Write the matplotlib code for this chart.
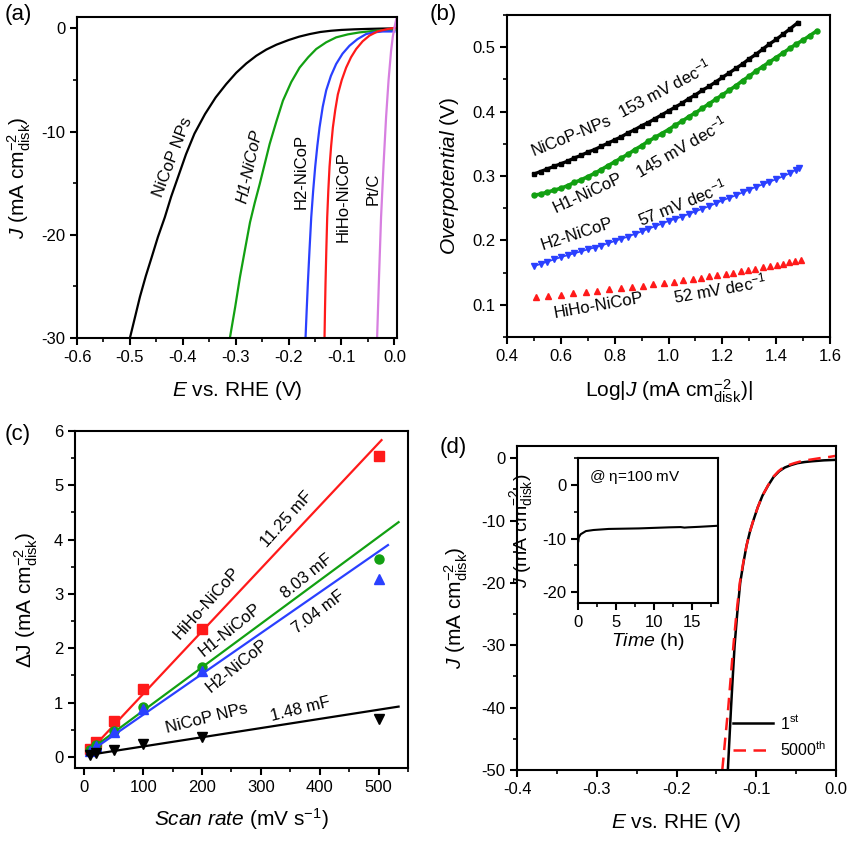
import numpy as np
import matplotlib
matplotlib.use("Agg")
import matplotlib.pyplot as plt
from matplotlib.ticker import MultipleLocator, AutoMinorLocator

plt.rcParams['font.family'] = ['Liberation Sans', 'DejaVu Sans']
plt.rcParams['mathtext.fontset'] = 'custom'
plt.rcParams['mathtext.rm'] = 'Liberation Sans'
plt.rcParams['mathtext.it'] = 'Liberation Sans:italic'
plt.rcParams['mathtext.bf'] = 'Liberation Sans:bold'

# ---------------- (a) polarization curves ----------------
a_npt_E = [-0.500, -0.490, -0.481, -0.470, -0.459, -0.447, -0.434, -0.422, -0.409, -0.394, -0.378, -0.358, -0.338,
           -0.318, -0.299, -0.280, -0.261, -0.242, -0.223, -0.200, -0.180, -0.160, -0.140, -0.120, -0.100, -0.075,
           -0.050, -0.025, 0.0]
a_npt_J = [-30.0, -27.9, -26.0, -24.0, -22.2, -20.2, -18.3, -16.3, -14.4, -12.2, -10.2, -8.3, -6.7,
           -5.4, -4.3, -3.4, -2.65, -2.05, -1.58, -1.13, -0.80, -0.55, -0.35, -0.23, -0.15, -0.09,
           -0.05, -0.02, 0.0]
a_h1_E = [-0.311, -0.301, -0.292, -0.282, -0.273, -0.264, -0.2547, -0.245, -0.2358, -0.223, -0.2107, -0.195,
          -0.1792, -0.163, -0.1478, -0.129, -0.1101, -0.088, -0.066, -0.044, -0.022, 0.0]
a_h1_J = [-30.0, -27.0, -24.1, -21.3, -18.8, -16.9, -15.1, -13.1, -11.2, -9.0, -7.0, -5.2,
          -3.8, -2.8, -2.0, -1.35, -0.87, -0.58, -0.39, -0.27, -0.2, -0.15]
a_h2_E = [-0.168, -0.1658, -0.1636, -0.1605, -0.1572, -0.1535, -0.1497, -0.1457, -0.1415, -0.1355, -0.1289,
          -0.1200, -0.1101, -0.0980, -0.0849, -0.0700, -0.0535, -0.038, -0.022, 0.0]
a_h2_J = [-30.0, -27.3, -24.7, -21.5, -18.3, -15.7, -13.4, -11.4, -9.6, -7.6, -6.0,
          -4.6, -3.45, -2.45, -1.68, -1.05, -0.55, -0.38, -0.3, -0.3]
a_hiho_E = [-0.1321, -0.1312, -0.1302, -0.1287, -0.127, -0.1249, -0.1226, -0.1196, -0.1163, -0.1118, -0.1069,
            -0.0995, -0.0912, -0.0820, -0.0723, -0.0600, -0.0472, -0.032, -0.016, 0.0, 0.005]
a_hiho_J = [-30.0, -27.3, -24.7, -21.5, -18.3, -15.7, -13.4, -11.4, -9.6, -7.9, -6.4,
            -5.0, -3.8, -2.8, -2.0, -1.25, -0.7, -0.3, -0.1, 0.05, 0.1]
a_pt_E = [-0.0327, -0.029, -0.0252, -0.0205, -0.0157, -0.011, -0.0063, -0.003, 0.001, 0.004]
a_pt_J = [-30.0, -24.0, -18.3, -13.2, -8.6, -5.0, -2.2, -0.8, 0.3, 1.0]

# ---------------- (b) Tafel plots ----------------
b_npt_x = [0.500, 0.525, 0.550, 0.575, 0.600, 0.625, 0.650, 0.675, 0.700, 0.725, 0.750, 0.775, 0.800, 0.825,
           0.850, 0.875, 0.900, 0.925, 0.950, 0.975, 1.000, 1.025, 1.050, 1.075, 1.100, 1.125, 1.150, 1.175,
           1.200, 1.225, 1.250, 1.275, 1.300, 1.325, 1.350, 1.375, 1.400, 1.425, 1.450, 1.480]
b_npt_y = [0.303, 0.307, 0.311, 0.315, 0.319, 0.323, 0.328, 0.332, 0.337, 0.341, 0.346, 0.351, 0.356, 0.361,
           0.367, 0.372, 0.378, 0.383, 0.389, 0.395, 0.401, 0.407, 0.413, 0.420, 0.426, 0.433, 0.439, 0.446,
           0.453, 0.460, 0.467, 0.474, 0.482, 0.489, 0.497, 0.505, 0.512, 0.520, 0.528, 0.538]
b_h1_x = [0.500, 0.525, 0.550, 0.575, 0.600, 0.625, 0.650, 0.675, 0.700, 0.725, 0.750, 0.775, 0.800, 0.825,
          0.850, 0.875, 0.900, 0.925, 0.950, 0.975, 1.000, 1.025, 1.050, 1.075, 1.100, 1.125, 1.150, 1.175,
          1.200, 1.225, 1.250, 1.275, 1.300, 1.325, 1.350, 1.375, 1.400, 1.425, 1.450, 1.475, 1.500, 1.525, 1.550]
b_h1_y = [0.270, 0.272, 0.275, 0.278, 0.281, 0.285, 0.290, 0.294, 0.299, 0.304, 0.310, 0.316, 0.322, 0.328,
          0.334, 0.341, 0.347, 0.354, 0.360, 0.366, 0.372, 0.379, 0.385, 0.392, 0.398, 0.405, 0.412, 0.419,
          0.426, 0.433, 0.440, 0.448, 0.455, 0.463, 0.470, 0.477, 0.484, 0.491, 0.498, 0.505, 0.511, 0.518, 0.525]
b_h2_x = [0.500, 0.525, 0.550, 0.575, 0.600, 0.625, 0.650, 0.675, 0.700, 0.725, 0.750, 0.775, 0.800, 0.825,
          0.850, 0.875, 0.900, 0.925, 0.950, 0.975, 1.000, 1.025, 1.050, 1.075, 1.100, 1.125, 1.150, 1.175,
          1.200, 1.225, 1.250, 1.275, 1.300, 1.325, 1.350, 1.375, 1.400, 1.425, 1.450, 1.475, 1.485]
b_h2_y = [0.160, 0.1635, 0.167, 0.1705, 0.174, 0.177, 0.180, 0.183, 0.186, 0.189, 0.192, 0.1955, 0.199, 0.2025,
          0.206, 0.210, 0.214, 0.218, 0.222, 0.226, 0.230, 0.2335, 0.237, 0.241, 0.245, 0.249, 0.253, 0.2575,
          0.262, 0.266, 0.270, 0.2745, 0.279, 0.283, 0.287, 0.291, 0.295, 0.2995, 0.304, 0.310, 0.313]
b_hiho_x = [0.506, 0.552, 0.600, 0.645, 0.692, 0.736, 0.779, 0.823, 0.866, 0.904, 0.943, 0.982, 1.019, 1.055, 1.090,
            1.121, 1.150, 1.181, 1.212, 1.240, 1.269, 1.296, 1.322, 1.350, 1.377, 1.402, 1.426, 1.449, 1.470, 1.491]
b_hiho_y = [0.112, 0.114, 0.116, 0.118, 0.120, 0.122, 0.124, 0.126, 0.128, 0.130, 0.132, 0.134, 0.136, 0.138, 0.140,
            0.142, 0.144, 0.146, 0.148, 0.150, 0.152, 0.154, 0.156, 0.158, 0.160, 0.162, 0.164, 0.166, 0.168, 0.170]

# ---------------- (c) double-layer capacitance ----------------
c_scan = [10, 20, 50, 100, 200, 500]
c_hiho = [0.15, 0.28, 0.66, 1.25, 2.36, 5.54]
c_h1 = [0.12, 0.22, 0.48, 0.92, 1.66, 3.64]
c_h2 = [0.10, 0.20, 0.45, 0.88, 1.58, 3.28]
c_npt = [0.04, 0.07, 0.12, 0.23, 0.36, 0.70]
# linear fits: slope, intercept, x-range end
c_fit_slope = {'hiho': 0.01154, 'h1': 0.0080, 'h2': 0.00751, 'npt': 0.00169}
c_fit_icpt = {'hiho': 0.005, 'h1': 0.05, 'h2': 0.025, 'npt': 0.023}
c_fit_xend = {'hiho': 505, 'h1': 534, 'h2': 516, 'npt': 534}
c_fit_xstart = 5

# ---------------- (d) stability ----------------
d_1st_E = [-0.1355, -0.1335, -0.1315, -0.1293, -0.1270, -0.1238, -0.1200, -0.1160, -0.1120, -0.1078, -0.1035,
           -0.0980, -0.0920, -0.0850, -0.0780, -0.0710, -0.0640, -0.0560, -0.0480, -0.0390, -0.0300, -0.0150, 0.0]
d_1st_J = [-50, -45, -40, -35, -30, -25, -20, -16.8, -14.0, -11.8, -10.0,
           -7.9, -6.0, -4.4, -3.0, -2.1, -1.5, -1.1, -0.8, -0.62, -0.5, -0.35, -0.27]
d_5000_E = [-0.1425, -0.1388, -0.1350, -0.1318, -0.1285, -0.1248, -0.1205, -0.1162, -0.1120, -0.1078, -0.1035,
            -0.0980, -0.0920, -0.0852, -0.0785, -0.0720, -0.0660, -0.0590, -0.0520, -0.0435, -0.0350, -0.0200,
            -0.0080, 0.0]
d_5000_J = [-50, -45, -40, -35, -30, -25, -20, -16.8, -14.0, -11.8, -10.0,
            -7.9, -6.0, -4.4, -3.0, -2.1, -1.5, -1.1, -0.8, -0.5, -0.3, 0.0,
            0.2, 0.37]
ins_t = [0.0, 0.05, 0.3, 1.0, 2.0, 4.0, 6.0, 8.0, 10.0, 12.0, 13.5, 14.0, 14.5, 16.0, 18.5]
ins_J = [-10.5, -9.8, -9.2, -8.6, -8.4, -8.2, -8.15, -8.1, -8.0, -7.9, -7.85, -7.95, -7.9, -7.8, -7.6]

BLACK = '#000000'
GREEN = '#12a012'
BLUE = '#2a40ff'
RED = '#ff1a1a'
VIOLET = '#d77fe0'

TICK_FS = 12
LAB_FS = 15
ANN_FS = 12
JLAB = r'$J$ (mA cm$^{-2}_{\mathrm{disk}}$)'

fig = plt.figure(figsize=(8.5, 8.43), dpi=100)


def style(ax, xmaj, ymaj):
    for s in ax.spines.values():
        s.set_linewidth(1.5)
    ax.xaxis.set_major_locator(MultipleLocator(xmaj))
    ax.yaxis.set_major_locator(MultipleLocator(ymaj))
    ax.xaxis.set_minor_locator(AutoMinorLocator(2))
    ax.yaxis.set_minor_locator(AutoMinorLocator(2))
    ax.tick_params(which='major', direction='out', length=5, width=1.5, labelsize=TICK_FS)
    ax.tick_params(which='minor', direction='out', length=3, width=1.2)


# (a)
axa = fig.add_axes([0.0906, 0.599, 0.3765, 0.3808])
axa.plot(a_npt_E, a_npt_J, color=BLACK, lw=1.6)
axa.plot(a_h1_E, a_h1_J, color=GREEN, lw=1.6)
axa.plot(a_h2_E, a_h2_J, color=BLUE, lw=1.6)
axa.plot(a_hiho_E, a_hiho_J, color=RED, lw=1.6)
axa.plot(a_pt_E, a_pt_J, color=VIOLET, lw=1.6)
axa.set_xlim(-0.6, 0.005)
axa.set_ylim(-30, 1.1)
style(axa, 0.1, 10)
axa.set_xticks([-0.6, -0.5, -0.4, -0.3, -0.2, -0.1, 0.0])
axa.set_xticklabels(['-0.6', '-0.5', '-0.4', '-0.3', '-0.2', '-0.1', '0.0'])
axa.set_yticks([0, -10, -20, -30])
axa.set_yticklabels(['0', '-10', '-20', '-30'])
axa.set_xlabel(r'$E$ vs. RHE (V)', fontsize=LAB_FS, labelpad=10)
axa.set_ylabel(JLAB, fontsize=LAB_FS, labelpad=6)
axa.text(-0.418, -12.45, 'NiCoP NPs', rotation=69, fontsize=ANN_FS, ha='center', va='center')
axa.text(-0.274, -13.4, 'H1-NiCoP', rotation=78, fontsize=ANN_FS, ha='center', va='center', style='italic')
axa.text(-0.176, -13.9, 'H2-NiCoP', rotation=90, fontsize=ANN_FS, ha='center', va='center')
axa.text(-0.0975, -16.3, 'HiHo-NiCoP', rotation=90, fontsize=ANN_FS, ha='center', va='center')
axa.text(-0.041, -15.5, 'Pt/C', rotation=90, fontsize=ANN_FS, ha='center', va='center')

# (b)
axb = fig.add_axes([0.5965, 0.6002, 0.38, 0.382])
axb.plot(b_npt_x, b_npt_y, color=BLACK, lw=2.4, marker='s', ms=3.2)
axb.plot(b_h1_x, b_h1_y, color=GREEN, lw=2.6, marker='o', ms=3.6)
axb.plot(b_h2_x, b_h2_y, color=BLUE, lw=1.2, marker='v', ms=4.6)
axb.plot(b_hiho_x, b_hiho_y, color=RED, lw=0, marker='^', ms=4.8)
axb.set_xlim(0.4, 1.6)
axb.set_ylim(0.05, 0.55)
style(axb, 0.2, 0.1)
axb.set_xticks([0.4, 0.6, 0.8, 1.0, 1.2, 1.4, 1.6])
axb.set_xticklabels(['0.4', '0.6', '0.8', '1.0', '1.2', '1.4', '1.6'])
axb.set_yticks([0.1, 0.2, 0.3, 0.4, 0.5])
axb.set_yticklabels(['0.1', '0.2', '0.3', '0.4', '0.5'])
axb.set_xlabel(r'Log|$J$ (mA cm$^{-2}_{\mathrm{disk}}$)|', fontsize=LAB_FS, labelpad=10)
axb.set_ylabel(r'$Overpotential$ (V)', fontsize=LAB_FS, labelpad=8)
axb.text(0.640, 0.362, 'NiCoP-NPs', rotation=22, fontsize=ANN_FS, ha='center', va='center')
axb.text(0.985, 0.437, r'153 mV dec$^{-1}$', rotation=28, fontsize=ANN_FS, ha='center', va='center')
axb.text(0.700, 0.273, 'H1-NiCoP', rotation=25, fontsize=ANN_FS, ha='center', va='center')
axb.text(1.045, 0.346, r'145 mV dec$^{-1}$', rotation=30, fontsize=ANN_FS, ha='center', va='center')
axb.text(0.658, 0.210, 'H2-NiCoP', rotation=18, fontsize=ANN_FS, ha='center', va='center')
axb.text(1.049, 0.259, r'57 mV dec$^{-1}$', rotation=22, fontsize=ANN_FS, ha='center', va='center')
axb.text(0.740, 0.099, 'HiHo-NiCoP', rotation=10, fontsize=ANN_FS, ha='center', va='center')
axb.text(1.191, 0.126, r'52 mV dec$^{-1}$', rotation=10, fontsize=ANN_FS, ha='center', va='center')

# (c)
axc = fig.add_axes([0.0882, 0.0893, 0.3918, 0.3994])
series_c = [('hiho', c_hiho, RED, 's'), ('h1', c_h1, GREEN, 'o'), ('h2', c_h2, BLUE, '^'), ('npt', c_npt, BLACK, 'v')]
for key, vals, col, mk in series_c:
    xs = np.array([c_fit_xstart, c_fit_xend[key]], dtype=float)
    axc.plot(xs, c_fit_icpt[key] + c_fit_slope[key] * xs, color=col, lw=1.6)
    axc.plot(c_scan, vals, ls='none', marker=mk, color=col, ms=6.5)
axc.set_xlim(-16, 550)
axc.set_ylim(-0.2, 6)
style(axc, 100, 1)
axc.set_xticks([0, 100, 200, 300, 400, 500])
axc.set_yticks([0, 1, 2, 3, 4, 5, 6])
axc.set_xlabel(r'$Scan\ rate$ (mV s$^{-1}$)', fontsize=LAB_FS, labelpad=8)
axc.set_ylabel(r'$\Delta$J (mA cm$^{-2}_{\mathrm{disk}}$)', fontsize=LAB_FS, labelpad=10)
axc.text(208, 2.82, 'HiHo-NiCoP', rotation=48, fontsize=ANN_FS, ha='center', va='center')
axc.text(344, 4.37, '11.25 mF', rotation=48, fontsize=ANN_FS, ha='center', va='center')
axc.text(248, 2.33, 'H1-NiCoP', rotation=39, fontsize=ANN_FS, ha='center', va='center')
axc.text(378, 3.32, '8.03 mF', rotation=39, fontsize=ANN_FS, ha='center', va='center')
axc.text(259, 1.68, 'H2-NiCoP', rotation=39, fontsize=ANN_FS, ha='center', va='center')
axc.text(398, 2.67, '7.04 mF', rotation=37, fontsize=ANN_FS, ha='center', va='center')
axc.text(208, 0.70, 'NiCoP NPs', rotation=14, fontsize=ANN_FS, ha='center', va='center')
axc.text(367, 0.88, '1.48 mF', rotation=14, fontsize=ANN_FS, ha='center', va='center')

# (d)
axd = fig.add_axes([0.6086, 0.0866, 0.3746, 0.3847])
axd.plot(d_1st_E, d_1st_J, color=BLACK, lw=1.8, label=r'1$^{\mathrm{st}}$')
axd.plot(d_5000_E, d_5000_J, color=RED, lw=1.8, ls=(0, (5, 3)), label=r'5000$^{\mathrm{th}}$')
axd.set_xlim(-0.4, 0.0)
axd.set_ylim(-50, 2)
style(axd, 0.1, 10)
axd.set_xticks([-0.4, -0.3, -0.2, -0.1, 0.0])
axd.set_xticklabels(['-0.4', '-0.3', '-0.2', '-0.1', '0.0'])
axd.set_yticks([0, -10, -20, -30, -40, -50])
axd.set_yticklabels(['0', '-10', '-20', '-30', '-40', '-50'])
axd.set_xlabel(r'$E$ vs. RHE (V)', fontsize=LAB_FS, labelpad=10)
axd.set_ylabel(JLAB, fontsize=LAB_FS, labelpad=8)
axd.legend(loc='lower right', bbox_to_anchor=(0.99, 0.015), frameon=False, fontsize=11.5, handlelength=2.5,
           handletextpad=0.4, borderaxespad=0.0, labelspacing=0.5)

axi = fig.add_axes([0.6804, 0.285, 0.164, 0.1713])
axi.plot(ins_t, ins_J, color=BLACK, lw=1.5)
axi.set_xlim(0, 18.4)
axi.set_ylim(-22, 5)
style(axi, 5, 10)
axi.set_xticks([0, 5, 10, 15])
axi.set_yticks([0, -10, -20])
axi.set_yticklabels(['0', '-10', '-20'])
axi.tick_params(labelsize=12)
axi.set_xlabel(r'$Time$ (h)', fontsize=14, labelpad=1)
axi.set_ylabel(JLAB, fontsize=14, labelpad=5)
axi.text(0.08, 0.87, r'@ $\mathrm{\eta}$=100 mV', transform=axi.transAxes, fontsize=11, ha='left', va='center')

# panel labels
for lbl, x, y in [('(a)', 0.021, 0.983), ('(b)', 0.521, 0.983), ('(c)', 0.021, 0.485), ('(d)', 0.533, 0.469)]:
    fig.text(x, y, lbl, fontsize=16, ha='center', va='center')

fig.savefig('out.png', dpi=100)
